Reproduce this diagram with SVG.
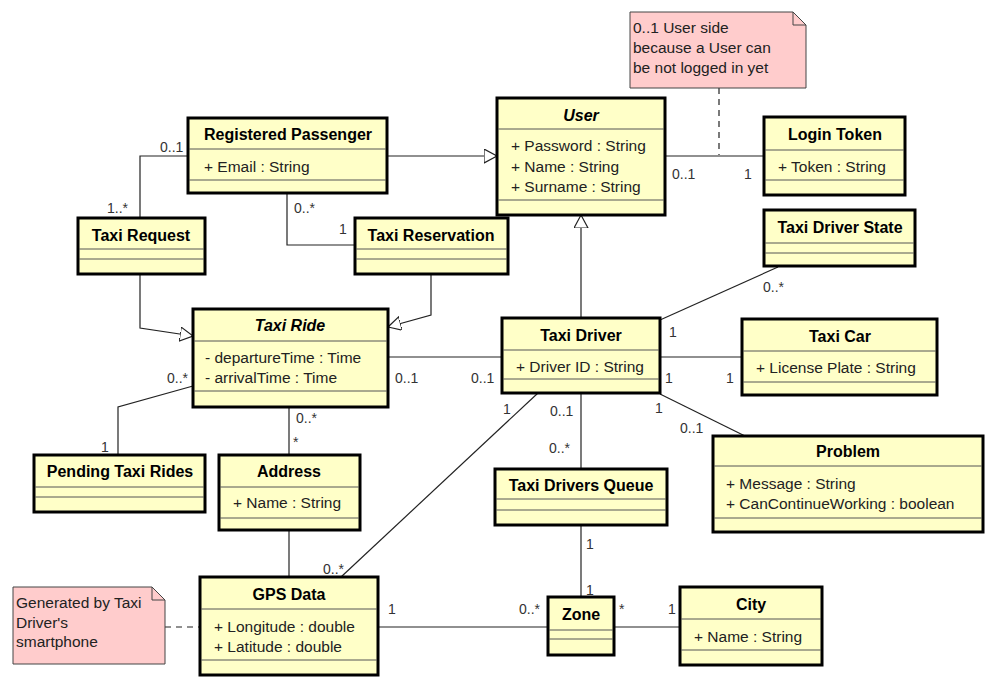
<svg xmlns="http://www.w3.org/2000/svg" width="996" height="688" viewBox="0 0 996 688">
<style>
.box{fill:#FFFFC8;stroke:#000;stroke-width:3}
.div{stroke:#555;stroke-width:1}
.t{font-family:"Liberation Sans",Arial,sans-serif;font-size:16px;font-weight:bold;fill:#000;text-anchor:middle}
.ti{font-style:italic}
.a{font-family:"Liberation Sans",Arial,sans-serif;font-size:15.5px;fill:#222}
.c{fill:none;stroke:#222;stroke-width:1.2}
.d{fill:none;stroke:#222;stroke-width:1.2;stroke-dasharray:6,5}
.lbl{font-family:"Liberation Sans",Arial,sans-serif;font-size:14px;fill:#333}
.note{fill:#FFCCCC;stroke:#444;stroke-width:1}
</style>
<defs>
<marker id="gen" markerUnits="userSpaceOnUse" markerWidth="16" markerHeight="16" refX="13" refY="7" orient="auto">
<path d="M0,0 L13,7 L0,14 Z" fill="#fff" stroke="#222" stroke-width="1.2"/>
</marker>
</defs>

<g id="connectors">
<path class="c" d="M387,156 L497,156" marker-end="url(#gen)"/>
<path class="c" d="M581,318 L581,215" marker-end="url(#gen)"/>
<path class="c" d="M140,274 L140,328 L193,336" marker-end="url(#gen)"/>
<path class="c" d="M431,274 L431,315 L388,327" marker-end="url(#gen)"/>
<path class="c" d="M188,156 L140,156 L140,218"/>
<path class="c" d="M287,193 L287,245 L355,245"/>
<path class="c" d="M665,156 L764,156"/>
<path class="d" d="M719,88 L719,155"/>
<path class="c" d="M388,357 L502,357"/>
<path class="c" d="M193,386 L118,407 L118,455"/>
<path class="c" d="M289,407 L289,455"/>
<path class="c" d="M289,530 L289,577"/>
<path class="c" d="M660,320 L778,267"/>
<path class="c" d="M660,357 L742,357"/>
<path class="c" d="M660,394 L745,436"/>
<path class="c" d="M581,393 L581,469"/>
<path class="c" d="M538,393 L341,577"/>
<path class="c" d="M581,525 L581,597"/>
<path class="c" d="M378,627 L548,627"/>
<path class="c" d="M614,627 L680,627"/>
<path class="d" d="M165,627 L200,627"/>
<text class="lbl" x="160" y="152">0..1</text>
<text class="lbl" x="107" y="213">1..*</text>
<text class="lbl" x="294" y="213">0..*</text>
<text class="lbl" x="339" y="234">1</text>
<text class="lbl" x="672" y="179">0..1</text>
<text class="lbl" x="744" y="179">1</text>
<text class="lbl" x="395" y="383">0..1</text>
<text class="lbl" x="471" y="383">0..1</text>
<text class="lbl" x="167" y="383">0..*</text>
<text class="lbl" x="101" y="452">1</text>
<text class="lbl" x="296" y="423">0..*</text>
<text class="lbl" x="293" y="447">*</text>
<text class="lbl" x="669" y="337">1</text>
<text class="lbl" x="763" y="292">0..*</text>
<text class="lbl" x="665" y="383">1</text>
<text class="lbl" x="726" y="383">1</text>
<text class="lbl" x="655" y="413">1</text>
<text class="lbl" x="680" y="433">0..1</text>
<text class="lbl" x="503" y="414">1</text>
<text class="lbl" x="323" y="574">0..*</text>
<text class="lbl" x="550" y="416">0..1</text>
<text class="lbl" x="549" y="453">0..*</text>
<text class="lbl" x="586" y="549">1</text>
<text class="lbl" x="586" y="595">1</text>
<text class="lbl" x="388" y="614">1</text>
<text class="lbl" x="519" y="614">0..*</text>
<text class="lbl" x="619" y="614">*</text>
<text class="lbl" x="668" y="614">1</text>
</g>

<g id="note-login">
<path class="note" d="M630,12 L793,12 L806,25 L806,88 L630,88 Z"/>
<path fill="none" stroke="#444" d="M793,12 L793,25 L806,25"/>
<text class="a" x="633" y="33">0..1 User side</text>
<text class="a" x="633" y="53">because a User can</text>
<text class="a" x="633" y="73">be not logged in yet</text>
</g>

<g id="note-gps">
<path class="note" d="M13,587 L152,587 L165,600 L165,664 L13,664 Z"/>
<path fill="none" stroke="#444" d="M152,587 L152,600 L165,600"/>
<text class="a" x="16" y="608">Generated by Taxi</text>
<text class="a" x="16" y="628">Driver's</text>
<text class="a" x="16" y="647">smartphone</text>
</g>

<g id="user">
<rect class="box" x="497" y="98" width="168" height="117"/>
<line class="div" x1="498" y1="129" x2="664" y2="129"/>
<line class="div" x1="498" y1="200" x2="664" y2="200"/>
<text class="t ti" x="581" y="121">User</text>
<text class="a" x="511" y="151">+ Password : String</text>
<text class="a" x="511" y="172">+ Name : String</text>
<text class="a" x="511" y="192">+ Surname : String</text>
</g>

<g id="registered-passenger">
<rect class="box" x="188" y="118" width="199" height="75"/>
<line class="div" x1="189" y1="149" x2="386" y2="149"/>
<line class="div" x1="189" y1="180" x2="386" y2="180"/>
<text class="t" x="288" y="140">Registered Passenger</text>
<text class="a" x="204" y="172">+ Email : String</text>
</g>

<g id="login-token">
<rect class="box" x="764" y="117" width="141" height="78"/>
<line class="div" x1="765" y1="150" x2="904" y2="150"/>
<line class="div" x1="765" y1="180" x2="904" y2="180"/>
<text class="t" x="835" y="140">Login Token</text>
<text class="a" x="778" y="172">+ Token : String</text>
</g>

<g id="taxi-request">
<rect class="box" x="78" y="218" width="127" height="56"/>
<line class="div" x1="79" y1="249" x2="204" y2="249"/>
<line class="div" x1="79" y1="259" x2="204" y2="259"/>
<text class="t" x="141" y="241">Taxi Request</text>
</g>

<g id="taxi-reservation">
<rect class="box" x="355" y="218" width="153" height="56"/>
<line class="div" x1="356" y1="249" x2="507" y2="249"/>
<line class="div" x1="356" y1="259" x2="507" y2="259"/>
<text class="t" x="431" y="241">Taxi Reservation</text>
</g>

<g id="taxi-driver-state">
<rect class="box" x="764" y="210" width="151" height="56"/>
<line class="div" x1="765" y1="243" x2="914" y2="243"/>
<line class="div" x1="765" y1="253" x2="914" y2="253"/>
<text class="t" x="840" y="233">Taxi Driver State</text>
</g>

<g id="taxi-ride">
<rect class="box" x="193" y="309" width="195" height="98"/>
<line class="div" x1="194" y1="341" x2="387" y2="341"/>
<line class="div" x1="194" y1="391" x2="387" y2="391"/>
<text class="t ti" x="290" y="331">Taxi Ride</text>
<text class="a" x="205" y="363">- departureTime : Time</text>
<text class="a" x="205" y="383">- arrivalTime : Time</text>
</g>

<g id="taxi-driver">
<rect class="box" x="502" y="318" width="158" height="75"/>
<line class="div" x1="503" y1="350" x2="659" y2="350"/>
<line class="div" x1="503" y1="379" x2="659" y2="379"/>
<text class="t" x="581" y="341">Taxi Driver</text>
<text class="a" x="516" y="372">+ Driver ID : String</text>
</g>

<g id="taxi-car">
<rect class="box" x="742" y="319" width="195" height="76"/>
<line class="div" x1="743" y1="351" x2="936" y2="351"/>
<line class="div" x1="743" y1="382" x2="936" y2="382"/>
<text class="t" x="840" y="342">Taxi Car</text>
<text class="a" x="756" y="373">+ License Plate : String</text>
</g>

<g id="pending-taxi-rides">
<rect class="box" x="34" y="455" width="171" height="57"/>
<line class="div" x1="35" y1="487" x2="204" y2="487"/>
<line class="div" x1="35" y1="497" x2="204" y2="497"/>
<text class="t" x="120" y="477">Pending Taxi Rides</text>
</g>

<g id="address">
<rect class="box" x="219" y="455" width="141" height="75"/>
<line class="div" x1="220" y1="487" x2="359" y2="487"/>
<line class="div" x1="220" y1="518" x2="359" y2="518"/>
<text class="t" x="289" y="477">Address</text>
<text class="a" x="233" y="508">+ Name : String</text>
</g>

<g id="problem">
<rect class="box" x="713" y="436" width="270" height="96"/>
<line class="div" x1="714" y1="466" x2="982" y2="466"/>
<line class="div" x1="714" y1="518" x2="982" y2="518"/>
<text class="t" x="848" y="457">Problem</text>
<text class="a" x="726" y="489">+ Message : String</text>
<text class="a" x="726" y="509">+ CanContinueWorking : boolean</text>
</g>

<g id="taxi-drivers-queue">
<rect class="box" x="495" y="469" width="172" height="56"/>
<line class="div" x1="496" y1="499" x2="666" y2="499"/>
<line class="div" x1="496" y1="510" x2="666" y2="510"/>
<text class="t" x="581" y="491">Taxi Drivers Queue</text>
</g>

<g id="gps-data">
<rect class="box" x="200" y="577" width="178" height="98"/>
<line class="div" x1="201" y1="609" x2="377" y2="609"/>
<line class="div" x1="201" y1="660" x2="377" y2="660"/>
<text class="t" x="289" y="600">GPS Data</text>
<text class="a" x="214" y="632">+ Longitude : double</text>
<text class="a" x="214" y="652">+ Latitude : double</text>
</g>

<g id="zone">
<rect class="box" x="548" y="597" width="66" height="58"/>
<line class="div" x1="549" y1="630" x2="613" y2="630"/>
<line class="div" x1="549" y1="639" x2="613" y2="639"/>
<text class="t" x="581" y="620">Zone</text>
</g>

<g id="city">
<rect class="box" x="680" y="587" width="142" height="78"/>
<line class="div" x1="681" y1="619" x2="821" y2="619"/>
<line class="div" x1="681" y1="650" x2="821" y2="650"/>
<text class="t" x="751" y="610">City</text>
<text class="a" x="694" y="642">+ Name : String</text>
</g>
</svg>
